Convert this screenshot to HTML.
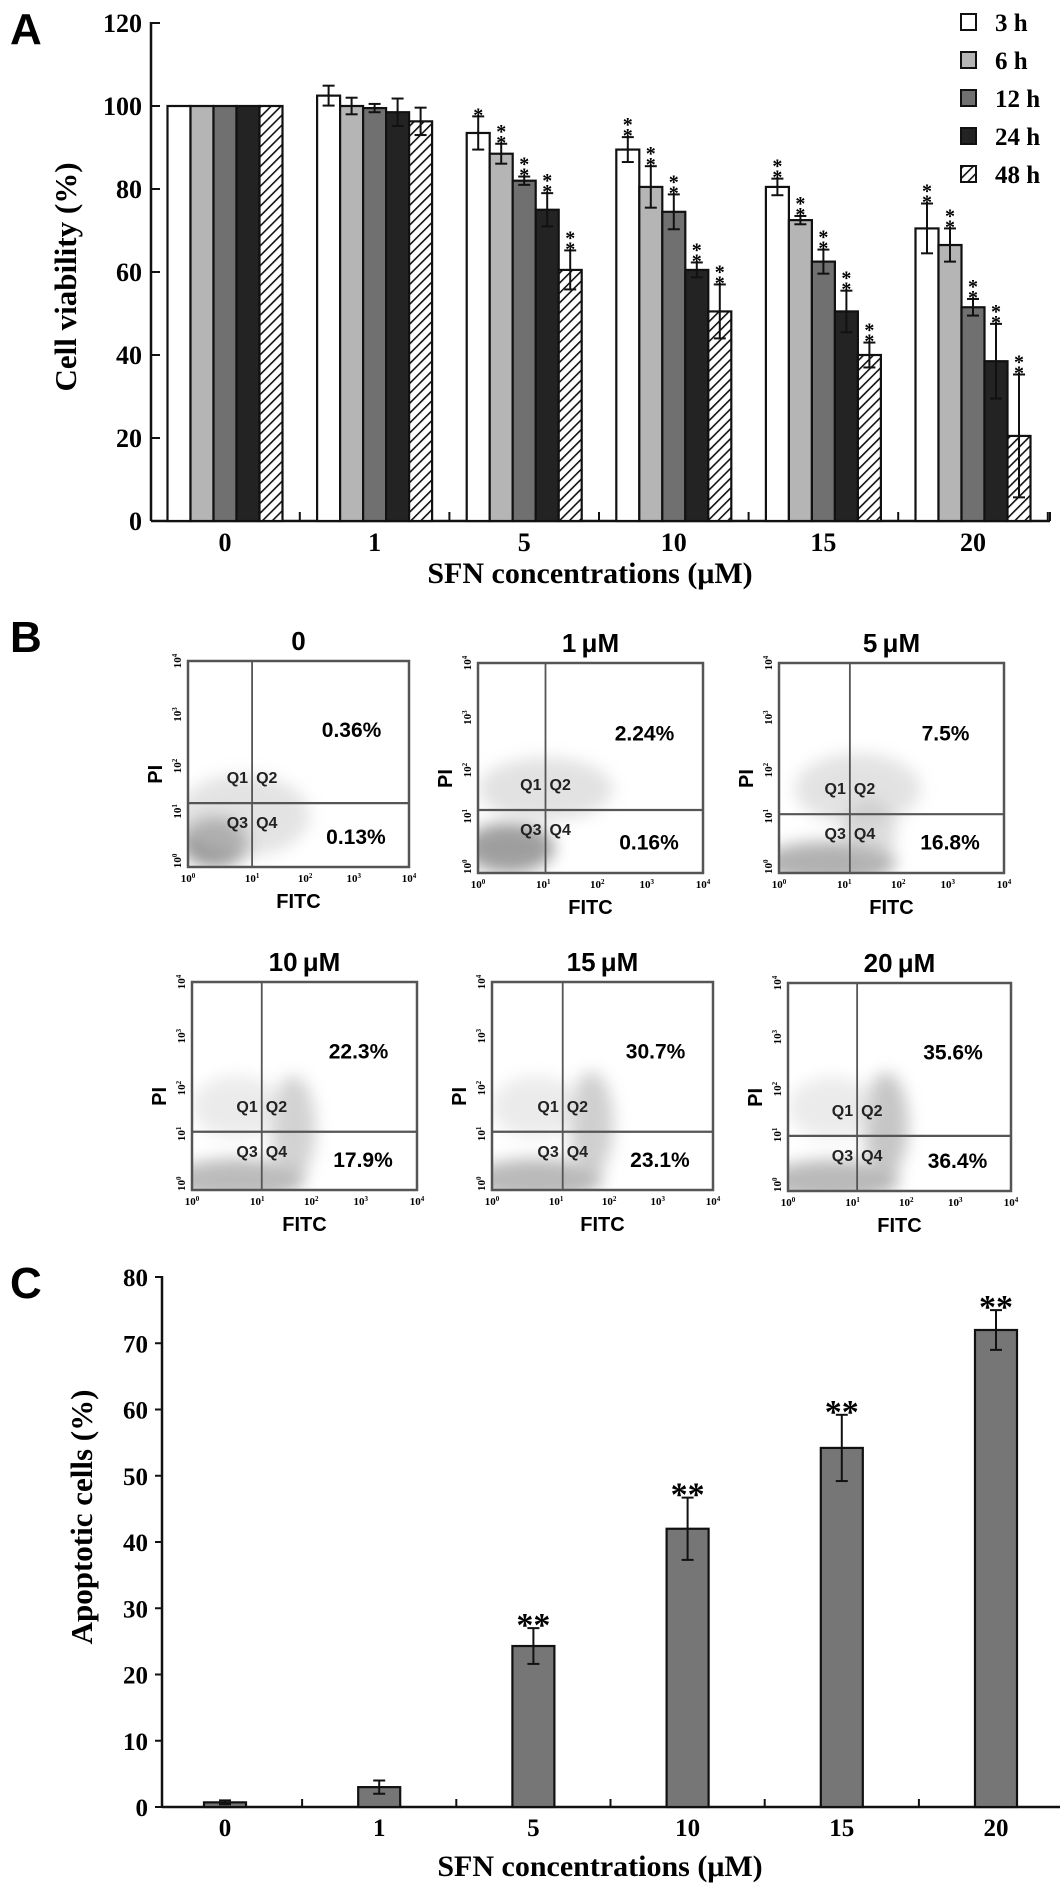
<!DOCTYPE html>
<html><head><meta charset="utf-8"><style>
body{margin:0;background:#fff}
svg{display:block}
.serif{font-family:"Liberation Serif",serif;font-weight:bold}
.sans{font-family:"Liberation Sans","DejaVu Sans",sans-serif;font-weight:bold}
</style></head><body>
<svg id="fig" width="1063" height="1885" viewBox="0 0 1063 1885" xmlns="http://www.w3.org/2000/svg">
<defs>
<pattern id="hatch" patternUnits="userSpaceOnUse" width="7" height="7" patternTransform="rotate(45)">
<rect width="7" height="7" fill="#fff"/><line x1="0" y1="0" x2="0" y2="7" stroke="#111" stroke-width="3.2"/>
</pattern>
<filter id="blur" x="-50%" y="-50%" width="200%" height="200%"><feGaussianBlur stdDeviation="8"/></filter>
</defs>
</svg>
<script>
const catsA = ['0','1','5','10','15','20'];
const seriesNames = ['3 h','6 h','12 h','24 h','48 h'];
const v3h = [100,102.5,93.5,89.5,80.5,70.5];
const v6h = [100,100,88.5,80.5,72.5,66.5];
const v12h = [100,99.5,82,74.5,62.5,51.5];
const v24h = [100,98.5,75,60.5,50.5,38.5];
const v48h = [100,96.3,60.5,50.5,40,20.5];
const e3h = [0,2.4,4,3,2,6];
const e6h = [0,2,2.4,5,1,4];
const e12h = [0,1,1,4.2,2.9,2];
const e24h = [0,3.3,4,1.8,5,9];
const e48h = [0,3.3,4.7,6.5,3,14.8];
const starsA3h = [0,0,1,2,2,2];
const starsAother = [0,0,2,2,2,2];
const ticksA = [0,20,40,60,80,100,120];

const catsC = ['0','1','5','10','15','20'];
const valsC = [0.7,3,24.3,42,54.2,72];
const errC = [0.3,1,2.7,4.7,5,3];
const starsC = [0,0,2,2,2,2];
const ticksC = [0,10,20,30,40,50,60,70,80];

const flowTitles = ['0','1\u2009\u03bcM','5\u2009\u03bcM','10\u2009\u03bcM','15\u2009\u03bcM','20\u2009\u03bcM'];
const flowQ2 = ['0.36%','2.24%','7.5%','22.3%','30.7%','35.6%'];
const flowQ4 = ['0.13%','0.16%','16.8%','17.9%','23.1%','36.4%'];

const NS='http://www.w3.org/2000/svg';
const svg=document.getElementById('fig');
function el(tag,attrs,parent){const e=document.createElementNS(NS,tag);for(const k in attrs)e.setAttribute(k,attrs[k]);(parent||svg).appendChild(e);return e;}
function txt(s,attrs,parent){const e=el('text',attrs,parent);e.textContent=s;return e;}

// ---------- Panel A ----------
const gA=el('g',{});


const lA=txt('A',{x:10,y:44,class:'sans','font-size':44},gA);


const A_X0=151,A_X1=1050,A_Y0=521,A_SC=4.15;
const xA=i=>225+149.6*i;
const yA=v=>A_Y0-v*A_SC;
const fills=['#ffffff','#b5b5b5','#707070','#232323','url(#hatch)'];
const valsA=[v3h,v6h,v12h,v24h,v48h];
const errsA=[e3h,e6h,e12h,e24h,e48h];
const BW=23;
// axes
el('line',{x1:A_X0,y1:yA(120)-1,x2:A_X0,y2:A_Y0,stroke:'#111','stroke-width':2.5},gA);
el('line',{x1:A_X0,y1:A_Y0,x2:A_X1,y2:A_Y0,stroke:'#111','stroke-width':2.5},gA);
ticksA.forEach(t=>{
  el('line',{x1:A_X0,y1:yA(t),x2:A_X0+9,y2:yA(t),stroke:'#111','stroke-width':2},gA);
  const tl=txt(String(t),{x:A_X0-9,y:yA(t)+9,'text-anchor':'end',class:'serif','font-size':26},gA);
  
  
});
for(let i=0;i<=catsA.length;i++){
  const bx=xA(i)-74.8;
  if(i>0) el('line',{x1:bx,y1:A_Y0,x2:bx,y2:A_Y0-9,stroke:'#111','stroke-width':2},gA);
}
el('line',{x1:A_X1,y1:A_Y0,x2:A_X1,y2:A_Y0-9,stroke:'#111','stroke-width':2},gA);
catsA.forEach((c,i)=>{
  const tl=txt(c,{x:xA(i),y:551,'text-anchor':'middle',class:'serif','font-size':26},gA);
  
  
  valsA.forEach((arr,j)=>{
    const x=xA(i)-57.5+BW*j, v=arr[i], e=errsA[j][i];
    const r=el('rect',{x:x,y:yA(v),width:BW,height:A_Y0-yA(v),fill:fills[j],stroke:'#111','stroke-width':2.2},gA);
    
    
    const cx=x+BW/2;
    if(e>0){
      el('line',{x1:cx,y1:yA(v+e),x2:cx,y2:yA(v-e),stroke:'#111','stroke-width':2},gA);
      el('line',{x1:cx-6,y1:yA(v+e),x2:cx+6,y2:yA(v+e),stroke:'#111','stroke-width':2},gA);
      el('line',{x1:cx-6,y1:yA(v-e),x2:cx+6,y2:yA(v-e),stroke:'#111','stroke-width':2},gA);
    }
    const ns=(j===0?starsA3h:starsAother)[i];
    for(let k=0;k<ns;k++){
      const s=txt('*',{x:cx,y:yA(v+e)-3-k*11+8,'text-anchor':'middle',class:'serif','font-size':20},gA);
      
      
    }
  });
});
const ytA=txt('Cell viability (%)',{x:0,y:0,transform:'translate(76,277) rotate(-90)','text-anchor':'middle',class:'serif','font-size':31},gA);


const xtA=txt('SFN concentrations (\u03bcM)',{x:590,y:583,'text-anchor':'middle',class:'serif','font-size':30},gA);


// legend
seriesNames.forEach((n,j)=>{
  const y=22+38*j;
  const r=el('rect',{x:961,y:y-8,width:15,height:16,fill:fills[j],stroke:'#111','stroke-width':2},gA);
  
  
  const t=txt(n,{x:995,y:y+9,class:'serif','font-size':25},gA);
  
  
});

// ---------- Panel B ----------
const gB=el('g',{});


const lB=txt('B',{x:10,y:652,class:'sans','font-size':44},gB);


const boxes=[[188,661,221,206,0.29,0.69],[478,663,225,210,0.30,0.70],[779,663,225,210,0.315,0.72],
             [192,982,225,208,0.31,0.72],[492,982,221,208,0.32,0.72],[788,983,223,208,0.31,0.735]];
const clouds=[
 [[0.12,0.88,0.15,0.12,'#8a8a8a',0.9],[0.25,0.75,0.3,0.2,'#c8c8c8',0.5]],
 [[0.14,0.88,0.2,0.12,'#8e8e8e',0.85],[0.3,0.6,0.3,0.15,'#cfcfcf',0.6]],
 [[0.22,0.95,0.3,0.1,'#9e9e9e',0.8],[0.35,0.6,0.28,0.17,'#d0d0d0',0.6],[0.4,0.8,0.12,0.15,'#bbb',0.5]],
 [[0.2,0.95,0.3,0.1,'#aaaaaa',0.8],[0.45,0.7,0.1,0.25,'#b5b5b5',0.6],[0.2,0.6,0.2,0.15,'#d8d8d8',0.5]],
 [[0.2,0.95,0.3,0.1,'#a8a8a8',0.8],[0.45,0.68,0.1,0.25,'#b0b0b0',0.6],[0.2,0.6,0.2,0.15,'#d8d8d8',0.5]],
 [[0.2,0.95,0.3,0.1,'#a8a8a8',0.8],[0.44,0.68,0.1,0.25,'#a8a8a8',0.65],[0.2,0.6,0.2,0.15,'#d8d8d8',0.5]]];
const xtf=[0,0.29,0.53,0.75,1.0], ytf=[0.03,0.27,0.49,0.74,1.0];
boxes.forEach((b,p)=>{
  const [X,Y,W,H,vx,hy]=b;
  const g=el('g',{},gB);
  
  
  const cid='clip'+p;
  const cp=el('clipPath',{id:cid},g); el('rect',{x:X,y:Y,width:W,height:H},cp);
  const cg=el('g',{'clip-path':'url(#'+cid+')'},g);
  clouds[p].forEach(c=>el('ellipse',{cx:X+c[0]*W,cy:Y+c[1]*H,rx:c[2]*W,ry:c[3]*H,fill:c[4],opacity:c[5],filter:'url(#blur)'},cg));
  el('rect',{x:X,y:Y,width:W,height:H,fill:'none',stroke:'#555','stroke-width':2.5},g);
  el('line',{x1:X+vx*W,y1:Y,x2:X+vx*W,y2:Y+H,stroke:'#555','stroke-width':1.8},g);
  el('line',{x1:X,y1:Y+hy*H,x2:X+W,y2:Y+hy*H,stroke:'#555','stroke-width':2.2},g);
  const t=txt(flowTitles[p],{x:X+W*0.5,y:Y-11,'text-anchor':'middle',class:'sans','font-size':26},g);
  
  
  const a=txt(flowQ2[p],{x:X+W*0.74,y:Y+H*0.33+8,'text-anchor':'middle',class:'sans','font-size':21},g);
  
  
  const c=txt(flowQ4[p],{x:X+W*0.76,y:Y+H*0.85+8,'text-anchor':'middle',class:'sans','font-size':21},g);
  
  
  const vxp=X+vx*W, hyp=Y+hy*H;
  [['Q1',vxp-4,hyp-20,'end'],['Q2',vxp+4,hyp-20,'start'],['Q3',vxp-4,hyp+25,'end'],['Q4',vxp+4,hyp+25,'start']].forEach(q=>{
    const e=txt(q[0],{x:q[1],y:q[2],'text-anchor':q[3],class:'sans','font-size':16,fill:'#222'},g);
    
    
  });
  ['0','1','2','3','4'].forEach((s,k)=>{
    const tx=txt('10',{x:X+xtf[k]*W,y:Y+H+15,'text-anchor':'middle',class:'serif','font-size':11},g);
    const sp=el('tspan',{dy:-4,'font-size':7},tx); sp.textContent=s;
    const ty=txt('10',{x:0,y:0,transform:'translate('+(X-7)+','+(Y+H-ytf[k]*H)+') rotate(-90)','text-anchor':'middle',class:'serif','font-size':11},g);
    const sp2=el('tspan',{dy:-4,'font-size':7},ty); sp2.textContent=s;
  });
  const fx=txt('FITC',{x:X+W*0.5,y:Y+H+41,'text-anchor':'middle',class:'sans','font-size':20},g);
  
  
  const py=txt('PI',{x:0,y:0,transform:'translate('+(X-26)+','+(Y+H*0.55)+') rotate(-90)','text-anchor':'middle',class:'sans','font-size':20},g);
  
  
});

// ---------- Panel C ----------
const gC=el('g',{});


const lC=txt('C',{x:10,y:1298,class:'sans','font-size':44},gC);


const C_X0=162,C_X1=1060,C_Y0=1807,C_SC=6.625;
const xC=i=>225+154.2*i;
const yC=v=>C_Y0-v*C_SC;
el('line',{x1:C_X0,y1:yC(80)-1,x2:C_X0,y2:C_Y0,stroke:'#111','stroke-width':2.5},gC);
el('line',{x1:C_X0,y1:C_Y0,x2:C_X1,y2:C_Y0,stroke:'#111','stroke-width':2.5},gC);
ticksC.forEach(t=>{
  el('line',{x1:C_X0-7,y1:yC(t),x2:C_X0,y2:yC(t),stroke:'#111','stroke-width':2},gC);
  const tl=txt(String(t),{x:C_X0-14,y:yC(t)+9,'text-anchor':'end',class:'serif','font-size':25},gC);
  
  
});
for(let i=1;i<=catsC.length;i++){
  const bx=xC(i)-77.1;
  el('line',{x1:bx,y1:C_Y0,x2:bx,y2:C_Y0-8,stroke:'#111','stroke-width':2},gC);
}
catsC.forEach((c,i)=>{
  const v=valsC[i],e=errC[i],cx=xC(i);
  const r=el('rect',{x:cx-21,y:yC(v),width:42,height:C_Y0-yC(v),fill:'#767676',stroke:'#111','stroke-width':2.2},gC);
  
  
  el('line',{x1:cx,y1:yC(v+e),x2:cx,y2:yC(v-e),stroke:'#111','stroke-width':2},gC);
  el('line',{x1:cx-6,y1:yC(v+e),x2:cx+6,y2:yC(v+e),stroke:'#111','stroke-width':2},gC);
  el('line',{x1:cx-6,y1:yC(v-e),x2:cx+6,y2:yC(v-e),stroke:'#111','stroke-width':2},gC);
  if(starsC[i]>0){
    const s=txt('*'.repeat(starsC[i]),{x:cx,y:yC(v+e)+8,'text-anchor':'middle',class:'serif','font-size':34},gC);
    
    
  }
  const tl=txt(c,{x:cx,y:1836,'text-anchor':'middle',class:'serif','font-size':25},gC);
  
  
});
const ytC=txt('Apoptotic cells (%)',{x:0,y:0,transform:'translate(92,1517) rotate(-90)','text-anchor':'middle',class:'serif','font-size':31},gC);


const xtC=txt('SFN concentrations (\u03bcM)',{x:600,y:1876,'text-anchor':'middle',class:'serif','font-size':30},gC);


</script>
</body></html>
